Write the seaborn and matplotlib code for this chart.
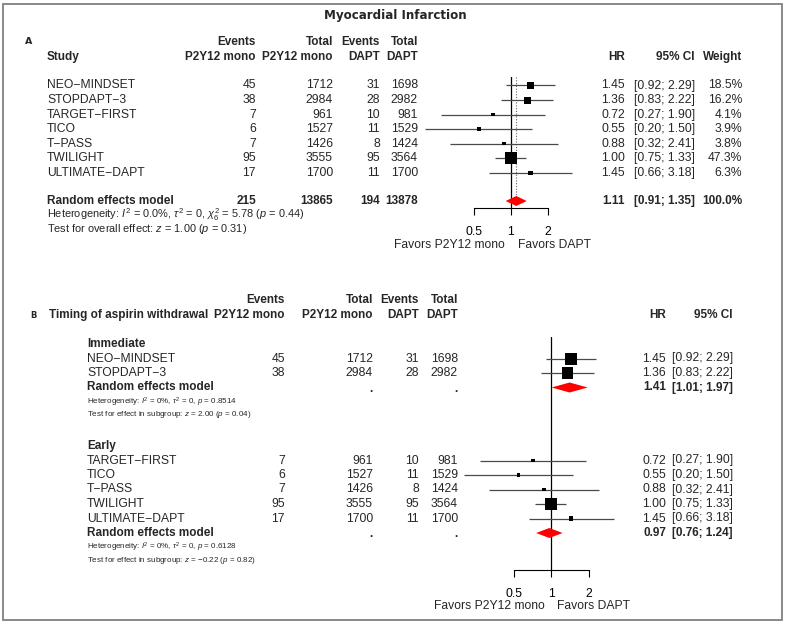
import numpy as np
import pandas as pd
import matplotlib
matplotlib.use("Agg")
import matplotlib.pyplot as plt
from matplotlib.patches import Rectangle
from matplotlib import font_manager
import seaborn as sns

# ---------------- data ----------------
studies = ["NEO\u2212MINDSET", "STOPDAPT\u22123", "TARGET\u2212FIRST", "TICO", "T\u2212PASS", "TWILIGHT", "ULTIMATE\u2212DAPT"]
ev_mono = [45, 38, 7, 6, 7, 95, 17]
n_mono = [1712, 2984, 961, 1527, 1426, 3555, 1700]
ev_dapt = [31, 28, 10, 11, 8, 95, 11]
n_dapt = [1698, 2982, 981, 1529, 1424, 3564, 1700]
hr = [1.45, 1.36, 0.72, 0.55, 0.88, 1.00, 1.45]
ci_lo = [0.92, 0.83, 0.27, 0.20, 0.32, 0.75, 0.66]
ci_hi = [2.29, 2.22, 1.90, 1.50, 2.41, 1.33, 3.18]
weight = [18.5, 16.2, 4.1, 3.9, 3.8, 47.3, 6.3]
timing = ["Immediate", "Immediate", "Early", "Early", "Early", "Early", "Early"]

pooled = (1.11, 0.91, 1.35)
pooled_counts = (215, 13865, 194, 13878)
subgroups = ["Immediate", "Early"]
sub_pooled = {"Immediate": (1.41, 1.01, 1.97), "Early": (0.97, 0.76, 1.24)}
sub_het = {
    "Immediate": ("Heterogeneity: $I^2$ = 0%, $\\tau^2$ = 0, $p$ = 0.8514",
                  "Test for effect in subgroup: $z$ = 2.00 ($p$ = 0.04)"),
    "Early": ("Heterogeneity: $I^2$ = 0%, $\\tau^2$ = 0, $p$ = 0.6128",
              "Test for effect in subgroup: $z$ = \u22120.22 ($p$ = 0.82)"),
}
het_A = ("Heterogeneity: $I^2$ = 0.0%, $\\tau^2$ = 0, $\\chi^2_6$ = 5.78 ($p$ = 0.44)",
         "Test for overall effect: $z$ = 1.00 ($p$ = 0.31)")
ticks = [0.5, 1, 2]
tick_labels = ["0.5", "1", "2"]

# ---------------- style ----------------
sns.set_style("white")
plt.rcParams["font.family"] = ["Liberation Sans", "DejaVu Sans"]
plt.rcParams["mathtext.fontset"] = "custom"
plt.rcParams["mathtext.rm"] = "Liberation Sans"
plt.rcParams["mathtext.it"] = "Liberation Sans:italic"
plt.rcParams["mathtext.bf"] = "Liberation Sans:bold"

installed = {f.name for f in font_manager.fontManager.ttflist}
NARROW = "Liberation Sans Narrow" in installed

W, H = 788, 624
fig = plt.figure(figsize=(W / 100, H / 100), dpi=100)
bg = fig.add_axes([0, 0, 1, 1])
bg.set_xlim(0, W)
bg.set_ylim(H, 0)
bg.axis("off")

FS = 8.7
FB = 8.45


def T(x, y, s, ha="left", size=None, weight="normal", family=None):
    kw = {}
    if family is not None:
        kw["family"] = family
    if size is None:
        size = FB if weight == "bold" else FS
    bg.text(x, y, s, ha=ha, va="center", fontsize=size, fontweight=weight, **kw)


def small_note(x, y, s):
    if NARROW:
        bg.text(x, y, s, ha="left", va="center", fontsize=6.6,
                family=["Liberation Sans Narrow", "DejaVu Sans"])
    else:
        bg.text(x, y, s, ha="left", va="center", fontsize=5.8)


def px_axes(x0, x1, y0, y1):
    return fig.add_axes([x0 / W, 1 - y1 / H, (x1 - x0) / W, (y1 - y0) / H])


def forest_axes(x0, x1, y0, y1, xone, ppd):
    ax = px_axes(x0, x1, y0, y1)
    ax.set_xscale("log", base=2)
    ax.set_xlim(2 ** ((x0 - xone) / ppd), 2 ** ((x1 - xone) / ppd))
    ax.set_ylim(y1, y0)
    ax.patch.set_alpha(0)
    for s in ["top", "left", "right"]:
        ax.spines[s].set_visible(False)
    ax.spines["bottom"].set_bounds(0.5, 2)
    ax.spines["bottom"].set_linewidth(0.8)
    ax.spines["bottom"].set_color("black")
    ax.set_xticks(ticks)
    ax.set_xticklabels(tick_labels)
    ax.xaxis.set_minor_locator(matplotlib.ticker.NullLocator())
    ax.tick_params(axis="x", direction="out", length=5, width=0.8, pad=8,
                   labelsize=FS, bottom=True, colors="black")
    ax.set_yticks([])
    return ax


def draw_studies(ax, df, max_side_px=12):
    ax.hlines(df["y"], df["lo"], df["hi"], color="#4a4a4a", lw=0.9, zorder=2)
    wmax = df["w"].max()
    smax = (max_side_px * 0.72) ** 2
    sns.scatterplot(data=df, x="hr", y="y", size="w",
                    sizes=(smax * df["w"].min() / wmax, smax),
                    marker="s", color="black", linewidth=0, legend=False,
                    ax=ax, zorder=3)
    ax.set_xlabel("")
    ax.set_ylabel("")


def diamond(ax, est, lo, hi, y, h=5):
    ax.fill([lo, est, hi, est], [y, y - h, y, y + h], color="red", lw=0, zorder=4)


# ---------------- title & border ----------------
bg.add_patch(Rectangle((3.5, 4), 779, 616, fill=False, ec="#808080", lw=1.3))
T(395, 15, "Myocardial Infarction", ha="center", size=8.6, weight="bold", family="DejaVu Sans")

# ---------------- panel A ----------------
T(25, 42, "A", size=6.8, weight="bold", family="DejaVu Sans")
colA = dict(evm=256, nm=333, evd=380, nd=418, hr=625, ci=695, wt=742)
T(47, 57, "Study", weight="bold")
for key, l1, l2 in [("evm", "Events", "P2Y12 mono"), ("nm", "Total", "P2Y12 mono"),
                    ("evd", "Events", "DAPT"), ("nd", "Total", "DAPT")]:
    T(colA[key], 42, l1, ha="right", weight="bold")
    T(colA[key], 57, l2, ha="right", weight="bold")
T(colA["hr"], 57, "HR", ha="right", weight="bold")
T(colA["ci"], 57, "95% CI", ha="right", weight="bold")
T(colA["wt"], 57, "Weight", ha="right", weight="bold")

rowsA = [85.5 + 14.55 * i for i in range(len(studies))]
for i, y in enumerate(rowsA):
    T(47, y, studies[i])
    T(colA["evm"], y, str(ev_mono[i]), ha="right")
    T(colA["nm"], y, str(n_mono[i]), ha="right")
    T(colA["evd"], y, str(ev_dapt[i]), ha="right")
    T(colA["nd"], y, str(n_dapt[i]), ha="right")
    T(colA["hr"], y, f"{hr[i]:.2f}", ha="right")
    T(colA["ci"], y, f"[{ci_lo[i]:.2f}; {ci_hi[i]:.2f}]", ha="right")
    T(colA["wt"], y, f"{weight[i]:.1f}%", ha="right")

ysumA = 201
T(47, ysumA, "Random effects model", weight="bold")
for key, v in zip(["evm", "nm", "evd", "nd"], pooled_counts):
    T(colA[key], ysumA, str(v), ha="right", weight="bold")
T(colA["hr"], ysumA, f"{pooled[0]:.2f}", ha="right", weight="bold")
T(colA["ci"], ysumA, f"[{pooled[1]:.2f}; {pooled[2]:.2f}]", ha="right", weight="bold")
T(colA["wt"], ysumA, "100.0%", ha="right", weight="bold")
T(47, 215, het_A[0], size=7.9)
T(47, 229.5, het_A[1], size=7.9)

axA = forest_axes(400, 600, 77, 208, 510.7, 37.0)
dfA = pd.DataFrame({"hr": hr, "lo": ci_lo, "hi": ci_hi, "w": weight, "y": rowsA})
axA.axvline(1, color="black", lw=0.9, zorder=1)
axA.vlines(pooled[0], 77, ysumA, colors="#666666", linestyles=(0, (1, 1.5)), lw=0.8, zorder=1)
draw_studies(axA, dfA)
diamond(axA, pooled[0], pooled[1], pooled[2], ysumA)
T(505, 245, "Favors P2Y12 mono", ha="right")
T(518, 245, "Favors DAPT", ha="left")

# ---------------- panel B ----------------
T(30, 315, "B", size=6.0, weight="bold", family="DejaVu Sans")
colB = dict(evm=285, nm=373, evd=419, nd=458, hr=666, ci=733)
T(49, 315, "Timing of aspirin withdrawal", weight="bold")
for key, l1, l2 in [("evm", "Events", "P2Y12 mono"), ("nm", "Total", "P2Y12 mono"),
                    ("evd", "Events", "DAPT"), ("nd", "Total", "DAPT")]:
    T(colB[key], 300, l1, ha="right", weight="bold")
    T(colB[key], 315, l2, ha="right", weight="bold")
T(colB["hr"], 315, "HR", ha="right", weight="bold")
T(colB["ci"], 315, "95% CI", ha="right", weight="bold")

axB = forest_axes(455, 630, 337, 570, 551.0, 37.5)
axB.axvline(1, color="black", lw=0.9, zorder=1)

group_top = {"Immediate": 344, "Early": 446}
for g in subgroups:
    idx = [i for i, t in enumerate(timing) if t == g]
    y0 = group_top[g]
    T(87, y0, g, weight="bold")
    ys = [y0 + 14.5 * (k + 1) for k in range(len(idx))]
    for i, y in zip(idx, ys):
        T(87, y, studies[i])
        T(colB["evm"], y, str(ev_mono[i]), ha="right")
        T(colB["nm"], y, str(n_mono[i]), ha="right")
        T(colB["evd"], y, str(ev_dapt[i]), ha="right")
        T(colB["nd"], y, str(n_dapt[i]), ha="right")
        T(colB["hr"], y, f"{hr[i]:.2f}", ha="right")
        T(colB["ci"], y, f"[{ci_lo[i]:.2f}; {ci_hi[i]:.2f}]", ha="right")
    wsub = np.array([weight[i] for i in idx])
    dfB = pd.DataFrame({"hr": [hr[i] for i in idx], "lo": [ci_lo[i] for i in idx],
                        "hi": [ci_hi[i] for i in idx], "w": wsub / wsub.sum() * 100, "y": ys})
    draw_studies(axB, dfB)
    ysum = ys[-1] + 14.5
    est, lo, hi = sub_pooled[g]
    diamond(axB, est, lo, hi, ysum)
    T(87, ysum, "Random effects model", weight="bold")
    T(colB["nm"], ysum + 1, ".", ha="right", weight="bold")
    T(colB["nd"], ysum + 1, ".", ha="right", weight="bold")
    T(colB["hr"], ysum, f"{est:.2f}", ha="right", weight="bold")
    T(colB["ci"], ysum, f"[{lo:.2f}; {hi:.2f}]", ha="right", weight="bold")
    small_note(87, ysum + 14.5, sub_het[g][0])
    small_note(87, ysum + 27.5, sub_het[g][1])

T(545, 606, "Favors P2Y12 mono", ha="right")
T(557, 606, "Favors DAPT", ha="left")

fig.savefig("out.png", dpi=100)
